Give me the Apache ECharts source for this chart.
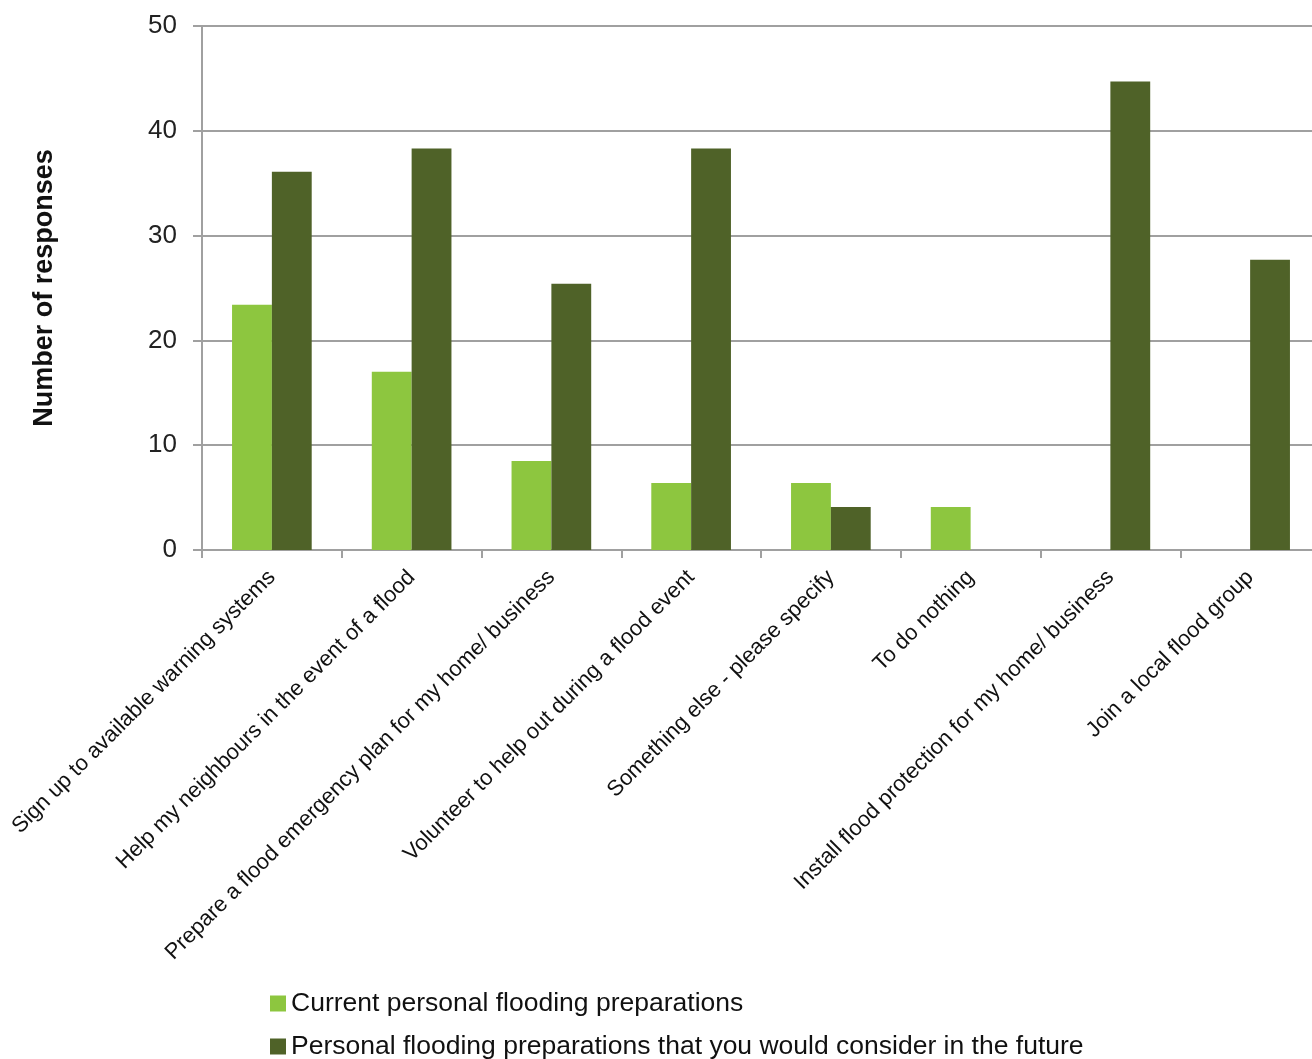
<!DOCTYPE html>
<html>
<head>
<meta charset="utf-8">
<script src="https://cdn.jsdelivr.net/npm/echarts@6/dist/echarts.min.js"></script>
<style>html,body{margin:0;padding:0;background:#fff;overflow:hidden;}#c{width:1321px;height:1059px;}</style>
</head>
<body>
<div id="c"></div>
<script>
const categories = [
  "Sign up to available warning systems",
  "Help my neighbours in the event of a flood",
  "Prepare a flood emergency plan for my home/ business",
  "Volunteer to help out during a flood event",
  "Something else - please specify",
  "To do nothing",
  "Install flood protection for my home/ business",
  "Join a local flood group"
];
const currentPrep = [23.4, 17.0, 8.5, 6.4, 6.4, 4.1, 0, 0];
const futurePrep = [36.1, 38.3, 25.4, 38.3, 4.1, 0, 44.7, 27.7];
const yTicks = [0, 10, 20, 30, 40, 50];
const seriesNames = ["Current personal flooding preparations", "Personal flooding preparations that you would consider in the future"];

const font = "'Liberation Sans', Arial, sans-serif";
const legendText = {fontFamily: font, fontSize: 26.5, color: '#111', padding: [0, 0, 0, 0]};
const chart = echarts.init(document.getElementById('c'), null, {renderer: 'canvas'});
chart.setOption({
  animation: false,
  textStyle: {fontFamily: font},
  grid: {left: 202, right: 1, top: 26, bottom: 509, containLabel: false},
  legend: [
    {left: 270, top: 990, itemWidth: 16, itemHeight: 16, icon: 'rect', padding: 0,
     textStyle: legendText, data: [seriesNames[0]]},
    {left: 270, top: 1033, itemWidth: 16, itemHeight: 16, icon: 'rect', padding: 0,
     textStyle: legendText, data: [seriesNames[1]]}
  ],
  xAxis: {
    type: 'category', data: categories,
    axisLine: {lineStyle: {color: '#a0a0a0', width: 2}},
    axisTick: {show: true, length: 8, lineStyle: {color: '#a0a0a0', width: 2}},
    axisLabel: {rotate: 45, fontSize: 22, color: '#111', fontFamily: font, margin: 24, interval: 0}
  },
  yAxis: {
    type: 'value', min: 0, max: 50, interval: 10,
    name: 'Number of responses', nameLocation: 'middle', nameGap: 144,
    nameTextStyle: {fontFamily: font, fontSize: 27, fontWeight: 'bold', color: '#111'},
    axisLine: {show: true, lineStyle: {color: '#a0a0a0', width: 2}},
    axisTick: {show: true, length: 9, lineStyle: {color: '#a0a0a0', width: 2}},
    splitLine: {lineStyle: {color: '#a0a0a0', width: 2}},
    axisLabel: {fontSize: 26, color: '#222', fontFamily: font, margin: 25,
      formatter: v => yTicks.includes(v) ? String(v) : ''}
  },
  series: [
    {name: seriesNames[0], type: 'bar', data: currentPrep, barGap: '0%', barCategoryGap: '43%',
     itemStyle: {color: '#8DC63F'}},
    {name: seriesNames[1], type: 'bar', data: futurePrep, barGap: '0%', barCategoryGap: '43%',
     itemStyle: {color: '#4F6228'}}
  ]
});
</script>
</body>
</html>
